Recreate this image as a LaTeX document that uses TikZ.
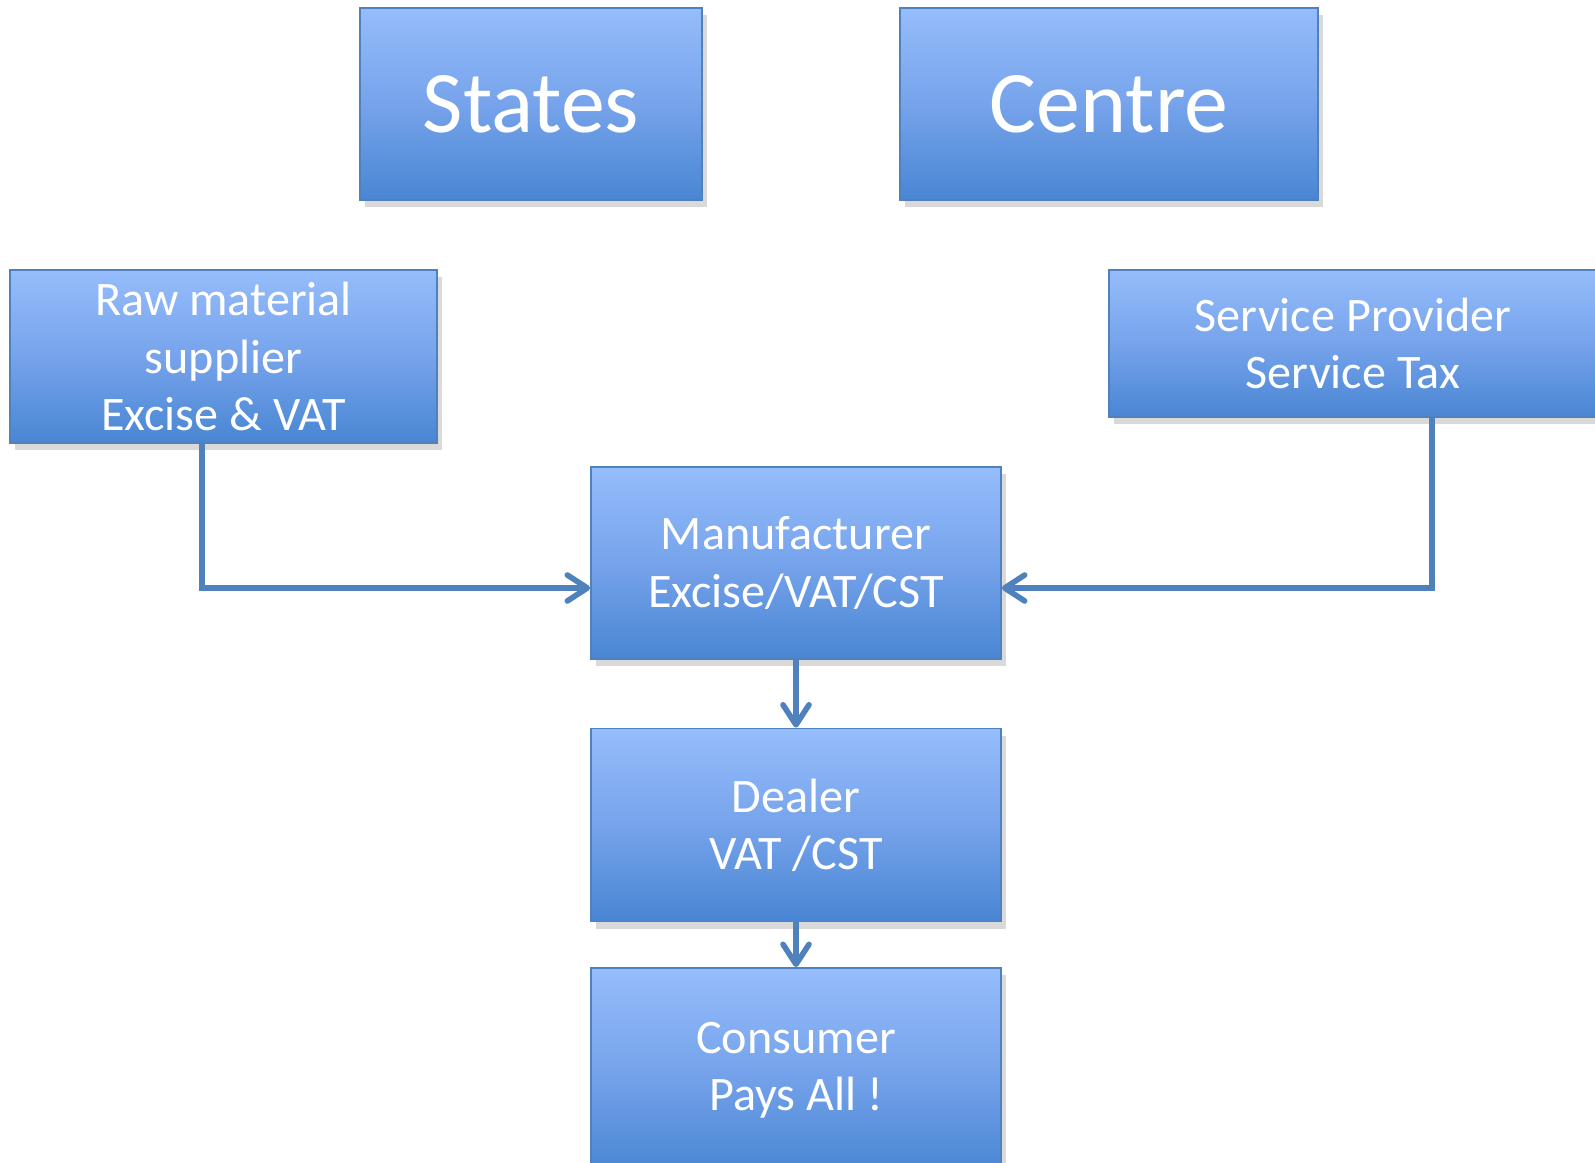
\documentclass[tikz,border=0pt]{standalone}
\usepackage{fontspec}
\setmainfont{Carlito}
\usepackage{tikz}
\usetikzlibrary{arrows.meta,shadows}
\definecolor{boxlight}{RGB}{156,194,255}
\definecolor{boxmid}{RGB}{118,163,235}
\definecolor{boxdark}{RGB}{64,128,206}
\definecolor{boxedge}{RGB}{79,129,189}
\pgfdeclareverticalshading{taxshade}{100bp}{color(0bp)=(boxdark); color(20bp)=(boxdark); color(50bp)=(boxmid); color(80bp)=(boxlight); color(100bp)=(boxlight)}
\tikzset{
	taxbox/.style={draw=boxedge, line width=0.5pt, shading=taxshade, text=white, align=center, inner sep=0pt,
		font=\fontsize{13.7}{16.3}\selectfont,
		drop shadow={shadow xshift=0.5mm, shadow yshift=-0.7mm, opacity=0.15, fill=black}},
	govbox/.style={taxbox, font=\fontsize{25}{30}\selectfont},
	flow/.style={draw=boxedge, line width=1.6pt, -{Straight Barb[length=2mm, width=2.6mm, line cap=round, line join=round]}},
}

\begin{document}
\begin{tikzpicture}
			%%%%% START %%%%%
			\useasboundingbox (0, 0) rectangle (15.95, -11.63);
			
			\node[govbox, minimum width=3.42cm, minimum height=1.92cm] (states) at (5.31, -1.04) {States};
			\node[govbox, minimum width=4.18cm, minimum height=1.92cm] (centre) at (11.09, -1.04) {Centre};
			
			\node[taxbox, minimum width=4.27cm, minimum height=1.73cm] (raw) at (2.235, -3.565) {Raw material\\supplier\\Excise \& VAT};
			\node[taxbox, minimum width=4.88cm, minimum height=1.47cm] (service) at (13.53, -3.435) {Service Provider\\Service Tax};
			
			\node[taxbox, minimum width=4.10cm, minimum height=1.92cm] (manu) at (7.96, -5.63) {Manufacturer\\Excise/VAT/CST};
			\node[taxbox, minimum width=4.10cm, minimum height=1.93cm] (dealer) at (7.96, -8.25) {Dealer\\VAT /CST};
			\node[taxbox, minimum width=4.10cm, minimum height=2.05cm] (consumer) at (7.96, -10.705) {Consumer\\Pays All !};
			
			\draw[flow] ([xshift=-0.215cm]raw.south) |- ([yshift=-0.25cm]manu.west);
			\draw[flow] ([xshift=0.79cm]service.south) |- ([yshift=-0.25cm]manu.east);
			\draw[flow] (manu) -- (dealer);
			\draw[flow] (dealer) -- (consumer);
			%%%%% END %%%%%
\end{tikzpicture}
\end{document}
